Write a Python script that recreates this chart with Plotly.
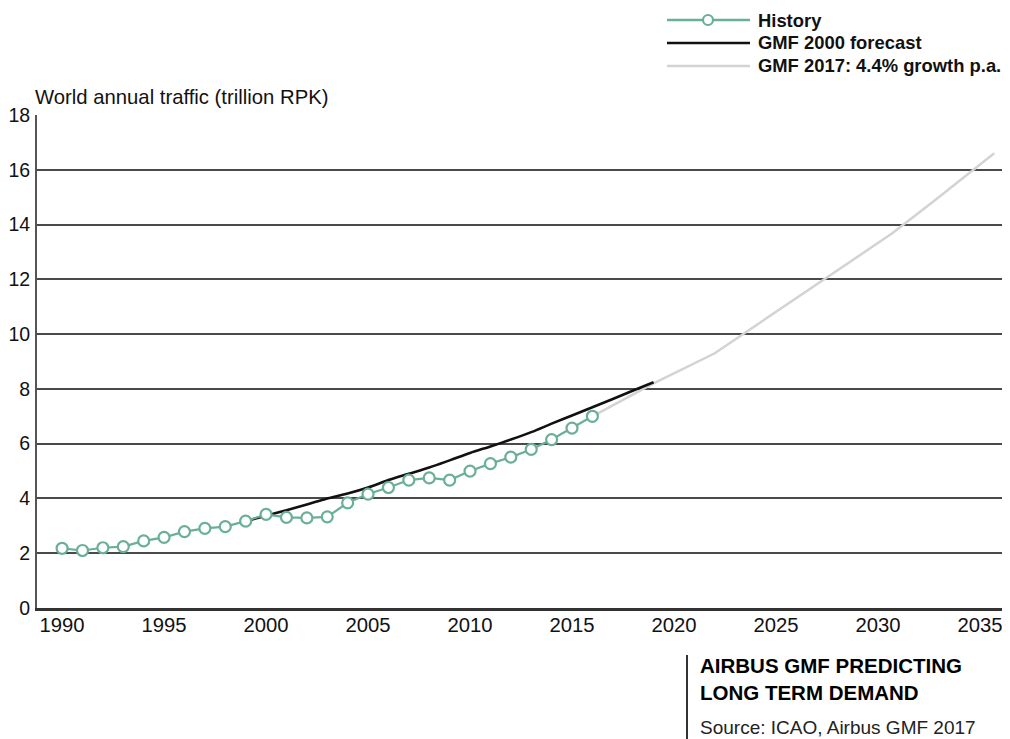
import plotly.graph_objects as go

# ---------------- data ----------------
history_years = [1990, 1991, 1992, 1993, 1994, 1995, 1996, 1997, 1998, 1999,
                 2000, 2001, 2002, 2003, 2004, 2005, 2006, 2007, 2008, 2009,
                 2010, 2011, 2012, 2013, 2014, 2015, 2016]
history_rpk = [2.18, 2.10, 2.20, 2.24, 2.45, 2.58, 2.79, 2.91, 2.97, 3.17,
               3.42, 3.31, 3.29, 3.33, 3.84, 4.16, 4.40, 4.67, 4.75, 4.67,
               5.00, 5.27, 5.51, 5.79, 6.15, 6.57, 7.00]

gmf2000_years = [1999, 2000, 2001, 2002, 2003, 2004, 2005, 2006, 2007, 2008,
                 2009, 2010, 2011, 2012, 2013, 2014, 2015, 2016, 2017, 2018, 2019]
gmf2000_rpk = [3.17, 3.37, 3.57, 3.78, 4.00, 4.18, 4.40, 4.67, 4.90, 5.13,
               5.39, 5.66, 5.90, 6.15, 6.42, 6.73, 7.03, 7.33, 7.63, 7.94, 8.24]

gmf2017_years = [2016, 2019, 2022, 2027, 2030.7, 2032.7, 2035.7]
gmf2017_rpk = [7.00, 8.20, 9.30, 11.80, 13.68, 14.83, 16.60]

x_ticks = [1990, 1995, 2000, 2005, 2010, 2015, 2020, 2025, 2030, 2035]
y_ticks = [0, 2, 4, 6, 8, 10, 12, 14, 16, 18]

legend_labels = ["History", "GMF 2000 forecast", "GMF 2017: 4.4% growth p.a."]

# ---------------- style ----------------
# the page body adds an 8px margin, so the figure starts at (8, 8) on screen
OFF = 8
SCREEN_W, SCREEN_H = 1010, 739
W, H = SCREEN_W - OFF, SCREEN_H - OFF
L, R, T, B = 37, 1003, 115, 608   # plot area in screen pixels
TEAL = "#6aaf98"
BLACK = "#111111"
GRAY = "#d3d3d3"
FONT = "Liberation Sans, Arial, Helvetica, sans-serif"


def px(xp):
    return (xp - L) / (R - L)


def py(yp):
    return (B - yp) / (B - T)


fig = go.Figure()

fig.add_trace(go.Scatter(x=gmf2017_years, y=gmf2017_rpk, mode="lines",
                         line=dict(color=GRAY, width=2.5), name=legend_labels[2]))
fig.add_trace(go.Scatter(x=gmf2000_years, y=gmf2000_rpk, mode="lines",
                         line=dict(color=BLACK, width=2.6, shape="spline"),
                         name=legend_labels[1]))
fig.add_trace(go.Scatter(x=history_years, y=history_rpk, mode="lines+markers",
                         line=dict(color=TEAL, width=2.2),
                         marker=dict(symbol="circle", size=11, color="white",
                                     line=dict(color=TEAL, width=2.2)),
                         name=legend_labels[0]))

shapes = []
annotations = []

# legend (drawn manually)
leg_rows = [20, 43, 66]
leg_colors = [TEAL, BLACK, GRAY]
for lab, yy, col in zip(legend_labels, leg_rows, leg_colors):
    shapes.append(dict(type="line", xref="paper", yref="paper",
                       x0=px(667), x1=px(750), y0=py(yy), y1=py(yy),
                       line=dict(color=col, width=2.6)))
    annotations.append(dict(text=lab, xref="paper", yref="paper",
                            x=px(756), y=py(yy), xanchor="left", yanchor="middle",
                            showarrow=False,
                            font=dict(family=FONT, size=18.4, color="#111111",
                                      weight="bold")))
shapes.append(dict(type="circle", xref="paper", yref="paper",
                   x0=px(703), x1=px(713), y0=py(25), y1=py(15),
                   fillcolor="white", line=dict(color=TEAL, width=2.2)))

# axis title
annotations.append(dict(text="World annual traffic (trillion RPK)", xref="paper",
                        yref="paper", x=px(33), y=py(97), xanchor="left",
                        yanchor="middle", showarrow=False,
                        font=dict(family=FONT, size=20.3, color="#111111")))

# bottom-right caption
shapes.append(dict(type="line", xref="paper", yref="paper",
                   x0=px(687), x1=px(687), y0=py(655), y1=py(739),
                   line=dict(color="#333333", width=2)))
annotations.append(dict(text="AIRBUS GMF PREDICTING", xref="paper", yref="paper",
                        x=px(698), y=py(665), xanchor="left", yanchor="middle",
                        showarrow=False,
                        font=dict(family=FONT, size=20.5, color="#000000",
                                  weight="bold")))
annotations.append(dict(text="LONG TERM DEMAND", xref="paper", yref="paper",
                        x=px(698), y=py(692), xanchor="left", yanchor="middle",
                        showarrow=False,
                        font=dict(family=FONT, size=20.5, color="#000000",
                                  weight="bold")))
annotations.append(dict(text="Source: ICAO, Airbus GMF 2017", xref="paper",
                        yref="paper", x=px(698), y=py(727), xanchor="left",
                        yanchor="middle", showarrow=False,
                        font=dict(family=FONT, size=19, color="#222222")))

fig.update_layout(
    width=W, height=H,
    margin=dict(l=L - OFF, r=SCREEN_W - R, t=T - OFF, b=SCREEN_H - B, pad=0,
                autoexpand=False),
    paper_bgcolor="white", plot_bgcolor="white",
    showlegend=False,
    shapes=shapes, annotations=annotations,
    xaxis=dict(range=[1988.77, 2036.13], tickvals=x_ticks,
               ticktext=[str(v) for v in x_ticks], ticks="", showgrid=False,
               zeroline=False, showline=True, linecolor="#333333", linewidth=2.5,
               ticklabelstandoff=-3,
               tickfont=dict(family=FONT, size=20.3, color="#111111")),
    yaxis=dict(range=[0, 18], tickvals=y_ticks, ticks="", showgrid=True,
               gridcolor="#4a4a4a", gridwidth=1.6, zeroline=False,
               showline=True, linecolor="#555555", linewidth=2,
               ticklabelstandoff=1,
               tickfont=dict(family=FONT, size=19.5, color="#111111")),
)

fig.write_html("out.html")
